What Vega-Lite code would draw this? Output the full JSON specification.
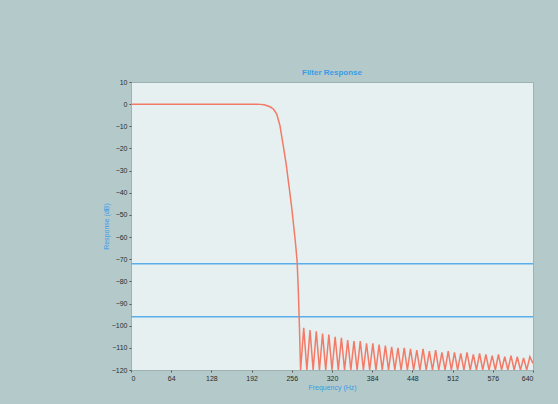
{
  "$schema": "https://vega.github.io/schema/vega-lite/v6.json",
  "width": 402,
  "height": 288,
  "autosize": {"type": "none"},
  "padding": {"left": 131, "top": 82, "right": 25, "bottom": 34},
  "background": "#B4CACA",
  "title": {"text": "Filter Response", "color": "#3A9AE6", "fontSize": 8, "font": "Liberation Sans", "fontWeight": "bold", "anchor": "middle", "offset": 1},
  "config": {
    "view": {"fill": "#E7F0F0", "stroke": "#9DB3B3"},
    "axis": {
      "labelFont": "Liberation Sans", "labelFontSize": 7, "labelColor": "#2A2A2A", "labelOverlap": false, "labelBound": false,
      "titleFont": "Liberation Sans", "titleFontSize": 7, "titleColor": "#3A9AE6", "titleFontWeight": "normal",
      "grid": false, "domain": false, "tickColor": "#555", "tickSize": 2, "labelPadding": 2, "titlePadding": 2
    }
  },
  "datasets": {
    "response": [
      {"f": 0, "db": 0}, {"f": 100, "db": 0}, {"f": 200, "db": 0}, {"f": 206, "db": -0.1}, {"f": 212, "db": -0.3},
      {"f": 217, "db": -0.7}, {"f": 222, "db": -1.3}, {"f": 227, "db": -2.3}, {"f": 232, "db": -4.5}, {"f": 237, "db": -9.5},
      {"f": 242, "db": -18}, {"f": 247, "db": -27}, {"f": 252, "db": -38}, {"f": 256, "db": -47}, {"f": 259, "db": -55},
      {"f": 262, "db": -63}, {"f": 264.5, "db": -71}, {"f": 266.5, "db": -85}, {"f": 268, "db": -99}, {"f": 270, "db": -120},
      {"f": 275, "db": -101}, {"f": 280, "db": -120}, {"f": 285, "db": -102}, {"f": 290, "db": -120}, {"f": 295, "db": -102.5},
      {"f": 300, "db": -120}, {"f": 305, "db": -103.5}, {"f": 310, "db": -120}, {"f": 315, "db": -104}, {"f": 320, "db": -120},
      {"f": 325, "db": -105}, {"f": 330, "db": -120}, {"f": 335, "db": -105.5}, {"f": 340, "db": -120}, {"f": 345, "db": -106.5},
      {"f": 350, "db": -120}, {"f": 355, "db": -107}, {"f": 360, "db": -120}, {"f": 365, "db": -107}, {"f": 370, "db": -120},
      {"f": 375, "db": -108}, {"f": 380, "db": -120}, {"f": 385, "db": -108}, {"f": 390, "db": -120}, {"f": 395, "db": -108.5},
      {"f": 400, "db": -120}, {"f": 405, "db": -109}, {"f": 410, "db": -120}, {"f": 415, "db": -109.5}, {"f": 420, "db": -120},
      {"f": 425, "db": -110}, {"f": 430, "db": -120}, {"f": 435, "db": -110}, {"f": 440, "db": -120}, {"f": 445, "db": -110.5},
      {"f": 450, "db": -120}, {"f": 455, "db": -111}, {"f": 460, "db": -120}, {"f": 465, "db": -110.5}, {"f": 470, "db": -120},
      {"f": 475, "db": -111.5}, {"f": 480, "db": -120}, {"f": 485, "db": -111}, {"f": 490, "db": -120}, {"f": 495, "db": -112},
      {"f": 500, "db": -120}, {"f": 505, "db": -111.5}, {"f": 510, "db": -120}, {"f": 515, "db": -112}, {"f": 520, "db": -120},
      {"f": 525, "db": -112.5}, {"f": 530, "db": -120}, {"f": 535, "db": -112}, {"f": 540, "db": -120}, {"f": 545, "db": -113},
      {"f": 550, "db": -120}, {"f": 555, "db": -112.5}, {"f": 560, "db": -120}, {"f": 565, "db": -113}, {"f": 570, "db": -120},
      {"f": 575, "db": -113.5}, {"f": 580, "db": -120}, {"f": 585, "db": -113}, {"f": 590, "db": -120}, {"f": 595, "db": -114},
      {"f": 600, "db": -120}, {"f": 605, "db": -113.5}, {"f": 610, "db": -120}, {"f": 615, "db": -114}, {"f": 620, "db": -120},
      {"f": 625, "db": -114.5}, {"f": 630, "db": -120}, {"f": 635, "db": -114}, {"f": 640, "db": -117}
    ],
    "markers": [{"db": -72}, {"db": -96}]
  },
  "layer": [
    {
      "data": {"name": "markers"},
      "mark": {"type": "rule", "color": "#5AAEEA", "strokeWidth": 1.5},
      "encoding": {
        "y": {"field": "db", "type": "quantitative", "title": "Response (dB)",
              "scale": {"domain": [-120, 10], "nice": false},
              "axis": {"values": [10, 0, -10, -20, -30, -40, -50, -60, -70, -80, -90, -100, -110, -120]}}
      }
    },
    {
      "data": {"name": "response"},
      "mark": {"type": "line", "color": "#F27A66", "strokeWidth": 1.5, "clip": true},
      "encoding": {
        "x": {"field": "f", "type": "quantitative", "title": "Frequency (Hz)",
              "scale": {"domain": [0, 640], "nice": false},
              "axis": {"values": [0, 64, 128, 192, 256, 320, 384, 448, 512, 576, 640]}},
        "y": {"field": "db", "type": "quantitative", "title": "Response (dB)",
              "scale": {"domain": [-120, 10], "nice": false},
              "axis": {"values": [10, 0, -10, -20, -30, -40, -50, -60, -70, -80, -90, -100, -110, -120]}}
      }
    }
  ]
}
